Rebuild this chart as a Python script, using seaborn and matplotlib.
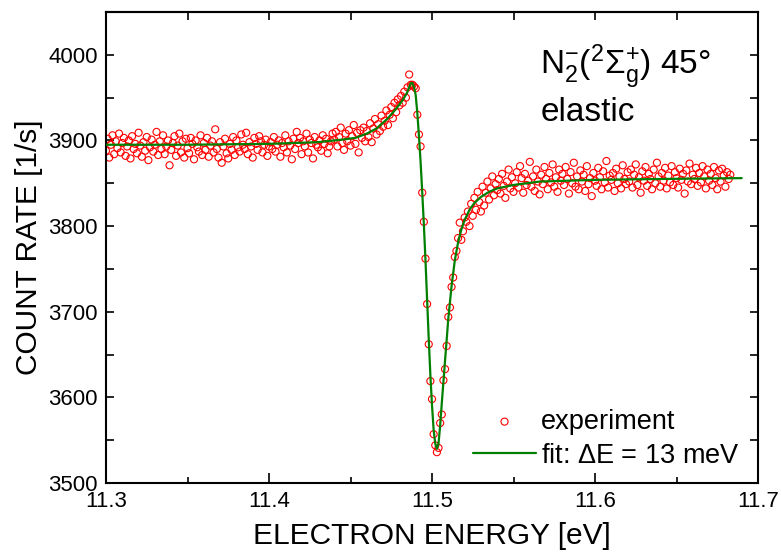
import numpy as np
import pandas as pd
import matplotlib
matplotlib.use("Agg")
import matplotlib.pyplot as plt
from matplotlib.ticker import MultipleLocator
import seaborn as sns

# Energy grid of the measurement (eV)
E_START = 11.300
E_STEP = 0.001

# Measured count rate [1/s], one value per energy step
rate_flat = [  # 11.300 - 11.440
    3888, 3902, 3880, 3895, 3906, 3884, 3899, 3891, 3908, 3886,
    3897, 3903, 3882, 3893, 3900, 3879, 3905, 3890, 3896, 3885,
    3909, 3894, 3881, 3898, 3888, 3904, 3877, 3892, 3901, 3887,
    3895, 3910, 3883, 3899, 3890, 3906, 3884, 3893, 3900, 3871,
    3889, 3897, 3905, 3882, 3894, 3908, 3886, 3899, 3880, 3902,
    3891, 3885, 3903, 3896, 3878, 3900, 3892, 3887, 3906, 3883,
    3897, 3889, 3903, 3881, 3894, 3899, 3886, 3913, 3890, 3880,
    3898, 3874, 3893, 3902, 3885, 3879, 3896, 3889, 3904, 3883,
    3900, 3892, 3887, 3907, 3895, 3890, 3909, 3884, 3898, 3893,
    3880, 3903, 3896, 3889, 3905, 3899, 3886, 3895, 3901, 3882,
    3893, 3898, 3890, 3904, 3887, 3895, 3900, 3881, 3897, 3892,
    3906, 3886, 3899, 3894, 3878, 3902, 3890, 3910, 3897, 3903,
    3884, 3899, 3893, 3908, 3886, 3901, 3897, 3879, 3904, 3895,
    3892, 3900, 3888, 3906, 3896, 3902, 3885, 3893, 3899, 3908,
    3901,
]
rate_rise = [  # 11.441 - 11.487
    3910, 3893, 3904, 3915, 3897, 3889, 3908, 3899, 3912, 3894,
    3905, 3918, 3896, 3909, 3886, 3912, 3903, 3915, 3899, 3911,
    3904, 3920, 3898, 3914, 3925, 3907, 3919, 3911, 3929, 3916,
    3923, 3935, 3918, 3930, 3939, 3926, 3944, 3933, 3948, 3941,
    3952, 3944, 3957, 3950, 3962, 3977, 3965,
]
rate_dip = [  # 11.488 - 11.530
    3965, 3963, 3961, 3930, 3907, 3893, 3839, 3805, 3762, 3709,
    3662, 3619, 3598, 3557, 3544, 3536,
    3541, 3570, 3580, 3620, 3633, 3660, 3694, 3705, 3729, 3740,
    3764, 3771, 3786, 3804, 3784, 3794, 3810, 3805, 3817, 3800,
    3826, 3812, 3833, 3819, 3840, 3828, 3817,
]
rate_tail = [  # 11.531 - 11.683
    3846, 3824, 3839, 3852, 3831, 3844, 3858, 3836, 3849, 3842,
    3855, 3838, 3861, 3847, 3833, 3852, 3866, 3844, 3857, 3840,
    3850, 3863, 3845, 3870, 3856, 3839, 3861, 3848, 3853, 3875,
    3846, 3858, 3841, 3866, 3852, 3837, 3860, 3849, 3869, 3855,
    3843, 3862, 3851, 3872, 3846, 3857, 3840, 3866, 3853, 3861,
    3848, 3869, 3855, 3838, 3863, 3850, 3874, 3846, 3858, 3843,
    3865, 3852, 3860, 3841, 3870, 3849, 3856, 3835, 3862, 3853,
    3847, 3868, 3857, 3843, 3864, 3851, 3876, 3845, 3859, 3854,
    3862, 3841, 3867, 3850, 3858, 3844, 3871, 3855, 3849, 3863,
    3852, 3866, 3845, 3860, 3872, 3848, 3857, 3839, 3864, 3853,
    3869, 3847, 3861, 3855, 3843, 3866, 3850, 3874, 3858, 3846,
    3862, 3853, 3868, 3844, 3859, 3851, 3870, 3848, 3863, 3856,
    3845, 3867, 3854, 3861, 3838, 3865, 3852, 3873, 3849, 3860,
    3855, 3868, 3847, 3862, 3851, 3870, 3858, 3844, 3866, 3853,
    3861, 3848, 3869, 3856, 3843, 3865, 3852, 3867, 3859, 3846,
    3863, 3855, 3860,
]

# Fano fit curve
fit_energy = [11.300, 11.350, 11.400, 11.430, 11.445, 11.453, 11.460, 11.466,
              11.473, 11.478, 11.482, 11.4845, 11.486, 11.487, 11.488, 11.489,
              11.490, 11.491, 11.492, 11.493, 11.494, 11.495, 11.496, 11.497,
              11.498, 11.499, 11.500, 11.501, 11.502, 11.503, 11.504, 11.505,
              11.506, 11.507, 11.508, 11.509, 11.510, 11.512, 11.514, 11.516,
              11.518, 11.520, 11.523, 11.526, 11.530, 11.535, 11.540, 11.550,
              11.566, 11.600, 11.640, 11.690]
fit_rate = [3895, 3895, 3896, 3898, 3901, 3903, 3908, 3914,
            3926, 3937, 3947, 3955, 3962, 3967, 3967, 3962,
            3953, 3932, 3905, 3875, 3840, 3802, 3760, 3714,
            3668, 3626, 3591, 3562, 3546, 3540, 3546, 3567,
            3593, 3618, 3643, 3667, 3692, 3730, 3760, 3781,
            3796, 3807, 3819, 3827, 3834, 3840, 3844, 3848,
            3852, 3854, 3855, 3856]

rate = rate_flat + rate_rise + rate_dip + rate_tail
energy = np.round(E_START + E_STEP * np.arange(len(rate)), 4)
data = pd.DataFrame({"energy": energy, "rate": rate})
fit = pd.DataFrame({"energy": fit_energy, "rate": fit_rate})

sns.set_style("ticks")
plt.rcParams["font.family"] = ["Liberation Sans", "DejaVu Sans"]
plt.rcParams["mathtext.fontset"] = "custom"
plt.rcParams["mathtext.rm"] = "Liberation Sans"
plt.rcParams["mathtext.it"] = "Liberation Sans"
for key in ["text.color", "axes.labelcolor", "xtick.color", "ytick.color", "axes.edgecolor"]:
    plt.rcParams[key] = "black"

fig, ax = plt.subplots(figsize=(7.81, 5.53), dpi=100)
fig.subplots_adjust(left=106 / 781, right=758 / 781, bottom=1 - 483 / 553, top=1 - 12 / 553)

sns.scatterplot(data=data, x="energy", y="rate", ax=ax, marker="o", s=26,
                facecolors="none", edgecolor="red", linewidth=0.8,
                label="experiment", zorder=2)
sns.lineplot(data=fit, x="energy", y="rate", ax=ax, color="green", linewidth=1.6,
             label=r"fit: $\Delta$E = 13 meV", zorder=3)

ax.set_xlim(11.3, 11.7)
ax.set_ylim(3500, 4050)
ax.xaxis.set_minor_locator(MultipleLocator(0.05))
ax.yaxis.set_minor_locator(MultipleLocator(50))
ax.set_xticks([11.3, 11.4, 11.5, 11.6, 11.7])
ax.set_xticklabels(["11.3", "11.4", "11.5", "11.6", "11.7"])
ax.set_yticks([3500, 3600, 3700, 3800, 3900, 4000])

ax.tick_params(axis="x", which="major", direction="in", length=7, width=1.2,
               labelsize=16, pad=6, top=False)
ax.tick_params(axis="x", which="minor", direction="in", length=4, width=1.2, top=False)
ax.tick_params(axis="y", which="both", direction="in", length=6, width=1.2,
               labelsize=16, pad=6, right=True)
top = ax.secondary_xaxis("top")
top.set_xticks(np.arange(11.35, 11.70, 0.05))
top.tick_params(direction="in", length=6, width=1.2, labeltop=False)
for sp in list(ax.spines.values()) + [top.spines["top"]]:
    sp.set_linewidth(1.5)
    sp.set_color("black")

ax.set_xlabel("ELECTRON ENERGY [eV]", fontsize=21.5, labelpad=7)
ax.set_ylabel("COUNT RATE [1/s]", fontsize=21.5, labelpad=4)

ax.text(0.666, 0.868, r"N$_2^{-}$($^2$Σ$_g^{+}$) 45°", transform=ax.transAxes,
        fontsize=24, ha="left", va="baseline")
ax.text(0.666, 0.769, "elastic", transform=ax.transAxes,
        fontsize=24, ha="left", va="baseline")

ax.legend(loc="lower right", bbox_to_anchor=(0.972, 0.03), frameon=False,
          fontsize=19.5, handlelength=2.3, handletextpad=0.2, labelspacing=0.3,
          borderaxespad=0, borderpad=0)

fig.savefig("out.png", dpi=100)
